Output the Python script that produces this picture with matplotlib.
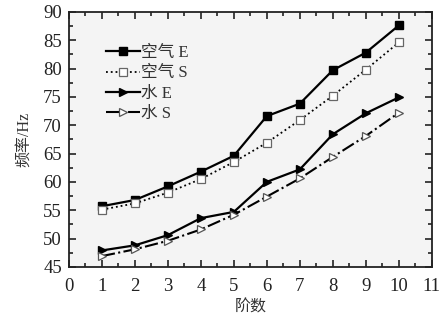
import numpy as np
import matplotlib
matplotlib.use("Agg")
import matplotlib.pyplot as plt
from matplotlib.ticker import MultipleLocator

plt.rcParams['font.family'] = ['Liberation Serif', 'Noto Sans CJK SC']

order = [1, 2, 3, 4, 5, 6, 7, 8, 9, 10]
air_e = [55.7, 56.8, 59.2, 61.8, 64.6, 71.6, 73.8, 79.7, 82.8, 87.6]
air_s = [55.1, 56.2, 58.1, 60.5, 63.5, 66.9, 70.9, 75.2, 79.8, 84.6]
water_e = [47.9, 48.8, 50.6, 53.6, 54.7, 60.0, 62.2, 68.4, 72.1, 74.9]
water_s = [46.9, 48.1, 49.6, 51.6, 54.2, 57.4, 60.6, 64.4, 68.1, 72.2]

fig = plt.figure(figsize=(4.47, 3.2), dpi=100)
ax = fig.add_axes([0.154, 0.166, 0.812, 0.797])
ax.set_facecolor('#f4f4f4')

ax.plot(order, air_e, '-', color='black', lw=1.6, marker='s', ms=5.5,
        mfc='black', mec='black', label='空气 E')
ax.plot(order, air_s, ':', color='black', lw=1.3, marker='s', ms=5.5,
        mfc='white', mec='#666666', mew=0.9, label='空气 S')
ax.plot(order, water_e, '-', color='black', lw=1.6, marker='>', ms=6,
        mfc='black', mec='black', label='水 E')
ax.plot(order, water_s, '-.', color='black', lw=1.5, marker='>', ms=6,
        mfc='white', mec='#555555', mew=0.9, label='水 S')

ax.set_xlim(0, 11)
ax.set_ylim(45, 90)
ax.xaxis.set_major_locator(MultipleLocator(1))
ax.xaxis.set_minor_locator(MultipleLocator(0.5))
ax.yaxis.set_major_locator(MultipleLocator(5))
ax.yaxis.set_minor_locator(MultipleLocator(2.5))
ax.tick_params(which='both', direction='in', top=True, right=True,
               labelsize=13.5, colors='#222222', width=1.2)
ax.tick_params(which='major', length=5)
ax.tick_params(which='minor', length=3)
ax.tick_params(axis='x', pad=8)
ax.tick_params(axis='y', pad=5)
for s in ax.spines.values():
    s.set_linewidth(1.3)
    s.set_color('#222222')

ax.set_xlabel('阶数', fontsize=11.5, color='#333333', labelpad=3)
ax.set_ylabel('频率/Hz', fontsize=11.5, color='#333333', labelpad=8)

leg = ax.legend(loc='upper left', bbox_to_anchor=(0.085, 0.895), frameon=False,
                fontsize=12, handlelength=2.0, handletextpad=0.1,
                labelspacing=0.25, borderaxespad=0)
for t in leg.get_texts():
    t.set_color('#333333')

fig.savefig('out.png', dpi=100)
